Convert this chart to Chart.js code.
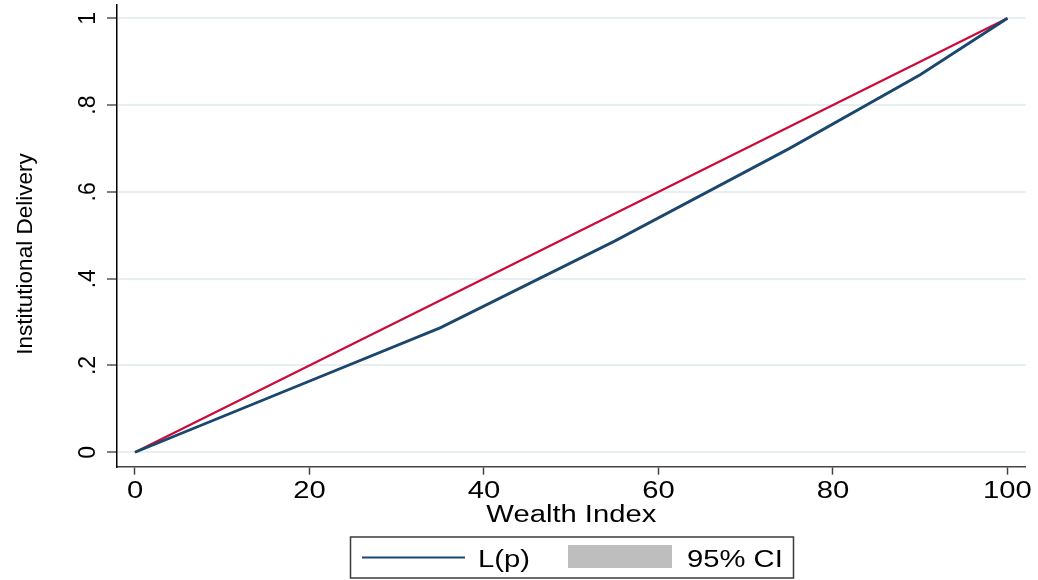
<!DOCTYPE html>
<html>
<head>
<meta charset="utf-8">
<script src="https://cdn.jsdelivr.net/npm/chart.js@4/dist/chart.umd.min.js"></script>
<style>
  html, body { margin: 0; padding: 0; background: #fff; overflow: hidden; }
  canvas { display: block; }
</style>
</head>
<body>
<canvas id="curve" width="1038" height="580"></canvas>
<script>
// Cumulative population share, ranked by wealth (%)
const popShare = [0, 35, 55, 75, 90, 100];
// Concentration curve L(p) of institutional delivery
const concentration = [0, 0.287, 0.487, 0.700, 0.870, 1.000];
// 95% confidence band around L(p)
const ciLower = [0, 0.283, 0.483, 0.696, 0.867, 1.000];
const ciUpper = [0, 0.291, 0.491, 0.704, 0.873, 1.000];
// Line of equality
const equalityX = [0, 100];
const equalityY = [0, 1];
// Axis ticks
const xTicks = [0, 20, 40, 60, 80, 100];
const yTicks = [0, 0.2, 0.4, 0.6, 0.8, 1];
const yTickLabels = ['0', '.2', '.4', '.6', '.8', '1'];

const FONT = '"Liberation Sans", Arial, Helvetica, sans-serif';
const NAVY = '#1a476f';
const RED = '#cc0a3a';
const CI_GREY = '#bebebe';
const TEXT_WIDEN = 1.27; // horizontal labels use a wide aspect

const zip = (xs, ys) => xs.map((x, i) => ({ x, y: ys[i] }));

// Horizontal text is drawn with a wider aspect; rotated text is left as is.
const wideText = {
  id: 'wideText',
  beforeInit(chart) {
    const ctx = chart.ctx;
    const base = ctx.fillText.bind(ctx);
    ctx.fillText = function (text, x, y, maxWidth) {
      const m = ctx.getTransform();
      if (Math.abs(m.b) > 1e-6 || Math.abs(m.c) > 1e-6) {
        return maxWidth === undefined ? base(text, x, y) : base(text, x, y, maxWidth);
      }
      ctx.save();
      ctx.translate(x, y);
      ctx.scale(TEXT_WIDEN, 1);
      base(text, 0, 0);
      ctx.restore();
    };
  }
};

// Vertical axis title and the boxed legend under the plot
const decorations = {
  id: 'decorations',
  afterDraw(chart) {
    const ctx = chart.ctx;
    ctx.save();
    ctx.fillStyle = '#000';
    ctx.font = '22.5px ' + FONT;
    ctx.textAlign = 'center';
    ctx.textBaseline = 'middle';
    ctx.translate(26, 254);
    ctx.rotate(-Math.PI / 2);
    ctx.fillText('Institutional Delivery', 0, 0);
    ctx.restore();

    ctx.save();
    ctx.strokeStyle = '#3a3a3a';
    ctx.lineWidth = 1.5;
    ctx.strokeRect(350.5, 537, 443, 41);
    ctx.strokeStyle = NAVY;
    ctx.lineWidth = 2;
    ctx.beginPath();
    ctx.moveTo(362, 557.5);
    ctx.lineTo(465, 557.5);
    ctx.stroke();
    ctx.fillStyle = CI_GREY;
    ctx.fillRect(568, 545, 104, 23);
    ctx.fillStyle = '#000';
    ctx.font = '23px ' + FONT;
    ctx.textAlign = 'left';
    ctx.textBaseline = 'alphabetic';
    ctx.fillText('L(p)', 478, 566.5);
    ctx.fillText('95% CI', 687, 566.5);
    ctx.restore();
  }
};

new Chart(document.getElementById('curve'), {
  type: 'line',
  data: {
    datasets: [
      {
        label: 'CI lower',
        data: zip(popShare, ciLower),
        borderWidth: 0,
        borderColor: 'rgba(0,0,0,0)',
        pointRadius: 0,
        fill: false,
        order: 3
      },
      {
        label: '95% CI',
        data: zip(popShare, ciUpper),
        borderWidth: 0,
        borderColor: 'rgba(0,0,0,0)',
        backgroundColor: CI_GREY,
        pointRadius: 0,
        fill: '-1',
        order: 2
      },
      {
        label: 'L(p)',
        data: zip(popShare, concentration),
        borderColor: NAVY,
        borderWidth: 2.8,
        pointRadius: 0,
        fill: false,
        order: 0
      },
      {
        label: 'Equality',
        data: zip(equalityX, equalityY),
        borderColor: RED,
        borderWidth: 2.2,
        pointRadius: 0,
        fill: false,
        order: 1
      }
    ]
  },
  options: {
    responsive: false,
    animation: false,
    devicePixelRatio: 1,
    layout: { padding: { left: 0, top: 5, right: 12.3, bottom: 0 } },
    plugins: { legend: { display: false }, tooltip: { enabled: false } },
    elements: { line: { tension: 0 }, point: { radius: 0 } },
    scales: {
      x: {
        type: 'linear',
        min: -2.063,
        max: 102.09,
        afterBuildTicks: (s) => { s.ticks = xTicks.map((v) => ({ value: v })); },
        afterFit: (s) => { s.height = 113.3; s.paddingLeft = 0; s.paddingRight = 0; },
        grid: { drawOnChartArea: false, drawTicks: true, tickLength: 8, tickColor: '#444', tickWidth: 1.5 },
        border: { color: '#444', width: 1.5 },
        ticks: {
          padding: 3,
          color: '#000',
          autoSkip: false,
          maxRotation: 0,
          font: { family: FONT, size: 23 },
          callback: (v) => String(v)
        },
        title: {
          display: true,
          text: 'Wealth Index',
          color: '#000',
          font: { family: FONT, size: 23 },
          padding: { top: 0, bottom: 51 }
        }
      },
      y: {
        type: 'linear',
        min: -0.0332,
        max: 1.0306,
        afterBuildTicks: (s) => { s.ticks = yTicks.map((v) => ({ value: v })); },
        afterFit: (s) => { s.width = 117; s.paddingTop = 0; s.paddingBottom = 0; },
        grid: { color: '#e8eff2', lineWidth: 2, drawTicks: true, tickLength: 10, tickColor: '#555', tickWidth: 1.5 },
        border: { color: '#000', width: 1.5 },
        ticks: {
          padding: 9,
          color: '#000',
          autoSkip: false,
          minRotation: 90,
          maxRotation: 90,
          crossAlign: 'center',
          font: { family: FONT, size: 23 },
          callback: (v) => {
            const i = yTicks.findIndex((t) => Math.abs(t - v) < 1e-9);
            return i >= 0 ? yTickLabels[i] : '';
          }
        }
      }
    }
  },
  plugins: [wideText, decorations]
});
</script>
</body>
</html>
